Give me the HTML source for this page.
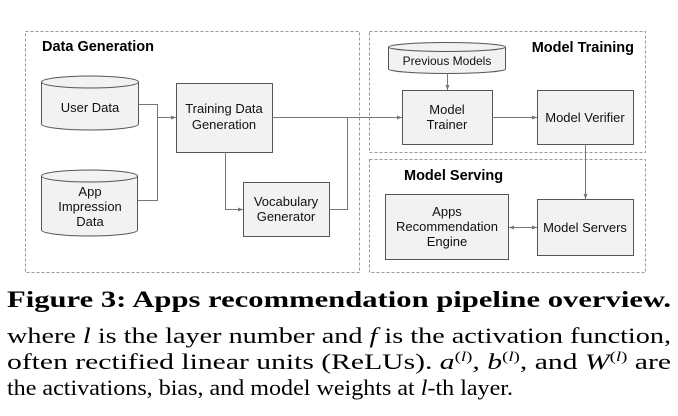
<!DOCTYPE html>
<html><head><meta charset="utf-8"><style>
html,body{margin:0;padding:0;background:#fff;}
svg{display:block;}
.s{font-family:"Liberation Sans",sans-serif;font-size:13px;fill:#111;text-anchor:middle;}
.t{font-family:"Liberation Sans",sans-serif;font-size:14.5px;font-weight:bold;fill:#000;}
.r{font-family:"Liberation Serif",serif;font-size:22px;fill:#000;}
.b{fill:#f2f2f2;stroke:#555;stroke-width:1;}
.l{fill:none;stroke:#777;stroke-width:1;}
.d{fill:none;stroke:#999;stroke-width:1;stroke-dasharray:3,2;}
</style></head><body>
<svg width="678" height="416" viewBox="0 0 678 416">
<defs><marker id="a" markerWidth="6" markerHeight="6" refX="5" refY="3" orient="auto"><path d="M0,1 L5,3 L0,5z" fill="#777"/></marker>
<marker id="a2" markerWidth="6" markerHeight="6" refX="1" refY="3" orient="auto"><path d="M6,1 L1,3 L6,5z" fill="#777"/></marker></defs>
<rect class="d" x="25.5" y="31.5" width="334" height="241"/>
<rect class="d" x="369.5" y="31.5" width="276" height="121"/>
<rect class="d" x="369.5" y="159.5" width="276" height="113"/>
<text class="t" x="42" y="51">Data Generation</text>
<text class="t" x="634" y="52" text-anchor="end">Model Training</text>
<text class="t" x="404" y="180">Model Serving</text>
<path class="b" d="M41.5,82 L41.5,124 A48.5,6 0 0 0 138.5,124 L138.5,82"/>
<ellipse class="b" cx="90" cy="82" rx="48.5" ry="6"/>
<text class="s" x="90" y="112">User Data</text>
<path class="b" d="M41.5,176 L41.5,230 A48,6 0 0 0 137.5,230 L137.5,176"/>
<ellipse class="b" cx="89.5" cy="176" rx="48" ry="6"/>
<text class="s" x="90" y="196">App</text><text class="s" x="90" y="211">Impression</text><text class="s" x="90" y="226">Data</text>
<path class="b" d="M388.5,47 L388.5,69 A58.5,4.5 0 0 0 505.5,69 L505.5,47"/>
<ellipse class="b" cx="447" cy="47" rx="58.5" ry="4.5"/>
<text class="s" x="447" y="65" style="font-size:12px">Previous Models</text>
<rect class="b" x="176.5" y="83.5" width="96" height="69"/>
<text class="s" x="224" y="113">Training Data</text><text class="s" x="224" y="129">Generation</text>
<rect class="b" x="243.5" y="182.5" width="86" height="54"/>
<text class="s" x="286" y="206">Vocabulary</text><text class="s" x="286" y="221">Generator</text>
<rect class="b" x="402.5" y="90.5" width="90" height="54"/>
<text class="s" x="447" y="114">Model</text><text class="s" x="447" y="129">Trainer</text>
<rect class="b" x="537.5" y="90.5" width="96" height="54"/>
<text class="s" x="585" y="122">Model Verifier</text>
<rect class="b" x="385.5" y="194.5" width="123" height="65"/>
<text class="s" x="447" y="216">Apps</text><text class="s" x="447" y="231">Recommendation</text><text class="s" x="447" y="246">Engine</text>
<rect class="b" x="537.5" y="199.5" width="96" height="56"/>
<text class="s" x="585" y="232">Model Servers</text>
<path class="l" d="M138.5,104.5 H157.5 V200.5 H137.5"/>
<path class="l" d="M157.5,117.5 H176" marker-end="url(#a)"/>
<path class="l" d="M225.5,152.5 V209.5 H243" marker-end="url(#a)"/>
<path class="l" d="M329.5,209.5 H347.5 V117.5"/>
<path class="l" d="M272.5,117.5 H402" marker-end="url(#a)"/>
<path class="l" d="M447.5,73 V90" marker-end="url(#a)"/>
<path class="l" d="M492.5,117.5 H537" marker-end="url(#a)"/>
<path class="l" d="M585.5,144.5 V199" marker-end="url(#a)"/>
<path class="l" d="M509,227.5 H537" marker-end="url(#a)" marker-start="url(#a2)"/>
<text x="7" y="307" textLength="664" lengthAdjust="spacingAndGlyphs" style="font-family:'Liberation Serif',serif;font-size:23px;font-weight:bold">Figure 3:  Apps recommendation pipeline overview.</text>
<text class="r" x="7" y="343" textLength="664" lengthAdjust="spacingAndGlyphs">where <tspan font-style="italic">l</tspan> is the layer number and <tspan font-style="italic">f</tspan> is the activation function,</text>
<text class="r" x="7" y="369" textLength="664" lengthAdjust="spacingAndGlyphs">often rectified linear units (ReLUs). <tspan font-style="italic">a</tspan><tspan font-size="14" dy="-8">(<tspan font-style="italic">l</tspan>)</tspan><tspan dy="8">, </tspan><tspan font-style="italic">b</tspan><tspan font-size="14" dy="-8">(<tspan font-style="italic">l</tspan>)</tspan><tspan dy="8">, and </tspan><tspan font-style="italic">W</tspan><tspan font-size="14" dy="-8">(<tspan font-style="italic">l</tspan>)</tspan><tspan dy="8"> are</tspan></text>
<text class="r" x="7" y="395" textLength="506" lengthAdjust="spacingAndGlyphs">the activations, bias, and model weights at <tspan font-style="italic">l</tspan>-th layer.</text>
</svg>
</body></html>
